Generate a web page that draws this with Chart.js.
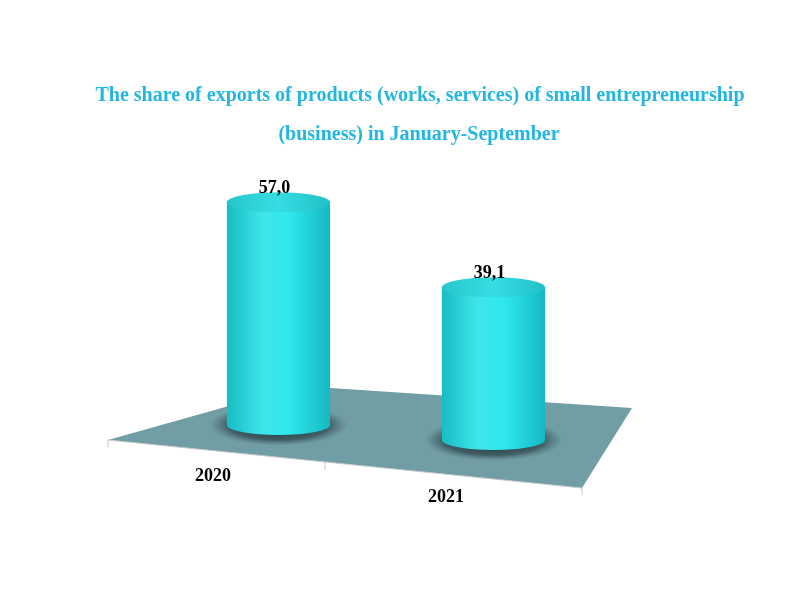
<!DOCTYPE html>
<html><head><meta charset="utf-8">
<script src="https://cdn.jsdelivr.net/npm/chart.js@4"></script>
<style>html,body{margin:0;background:#fff}#c{display:block}</style></head>
<body><canvas id="c" width="800" height="600"></canvas>
<script>
const categories = ["2020", "2021"];
const values = [57.0, 39.1];
const valueLabels = ["57,0", "39,1"];
const titleLines = ["The share of exports of products (works, services) of small entrepreneurship", "(business) in January-September"];

const baseShift = [-5, 10];
const catLabelPos = [[213, 476], [446, 497]];

const cyl = {
  id: 'cyl',
  beforeDatasetsDraw(chart) {
    const ctx = chart.ctx;
    ctx.save();
    ctx.font = 'bold 20px "Liberation Serif", serif';
    ctx.fillStyle = '#22b6e0';
    ctx.textAlign = 'center'; ctx.textBaseline = 'middle';
    ctx.fillText(titleLines[0], 420, 96);
    ctx.fillText(titleLines[1], 419, 135);
    ctx.beginPath();
    ctx.moveTo(108, 440); ctx.lineTo(300, 386); ctx.lineTo(632, 408); ctx.lineTo(582, 488); ctx.closePath();
    ctx.fillStyle = '#719ea5'; ctx.fill();
    ctx.strokeStyle = '#c8c8c8'; ctx.lineWidth = 1;
    ctx.beginPath(); ctx.moveTo(108, 440); ctx.lineTo(108, 447); ctx.moveTo(108, 440); ctx.lineTo(582, 488); ctx.lineTo(582, 495); ctx.moveTo(325, 462); ctx.lineTo(325, 470); ctx.stroke();
    const meta = chart.getDatasetMeta(0);
    meta.data.forEach((el, i) => {
      const w = el.width, cx = el.x, rx = w / 2, ry = 10;
      const top = el.y + baseShift[i], base = el.base + baseShift[i];
      const sg = ctx.createRadialGradient(cx, base, 5, cx, base, rx * 1.35);
      sg.addColorStop(0, 'rgba(20,40,45,0.9)'); sg.addColorStop(0.7, 'rgba(30,50,55,0.6)'); sg.addColorStop(1, 'rgba(60,90,95,0)');
      ctx.save(); ctx.translate(cx, base); ctx.scale(1, 0.3); ctx.translate(-cx, -base);
      ctx.fillStyle = sg; ctx.beginPath(); ctx.arc(cx, base, rx * 1.35, 0, Math.PI * 2); ctx.fill(); ctx.restore();
      const g = ctx.createLinearGradient(cx - rx, 0, cx + rx, 0);
      g.addColorStop(0, '#18bcc4'); g.addColorStop(0.35, '#3ee6ea'); g.addColorStop(0.6, '#2fe8ee'); g.addColorStop(1, '#15b8c2');
      ctx.fillStyle = g;
      ctx.beginPath();
      ctx.moveTo(cx - rx, top);
      ctx.lineTo(cx - rx, base);
      ctx.ellipse(cx, base, rx, ry, 0, Math.PI, 0, true);
      ctx.lineTo(cx + rx, top);
      ctx.closePath(); ctx.fill();
      const tg = ctx.createLinearGradient(cx - rx, 0, cx + rx, 0);
      tg.addColorStop(0, '#27c6cc'); tg.addColorStop(0.5, '#36dde2'); tg.addColorStop(1, '#22c0c8');
      ctx.fillStyle = tg;
      ctx.beginPath(); ctx.ellipse(cx, top, rx, ry, 0, 0, Math.PI * 2); ctx.fill();
      ctx.fillStyle = '#000'; ctx.font = 'bold 18px "Liberation Serif", serif';
      ctx.fillText(valueLabels[i], cx - 4, top - 14);
      ctx.fillText(categories[i], catLabelPos[i][0], catLabelPos[i][1]);
    });
    ctx.restore();
    return false;
  }
};

new Chart(document.getElementById('c'), {
  type: 'bar',
  data: { labels: categories, datasets: [{ data: values, backgroundColor: 'rgba(0,0,0,0)' }] },
  options: {
    responsive: false, animation: false,
    layout: { padding: { left: 171, right: 199, top: 180, bottom: 170 } },
    plugins: { legend: { display: false }, tooltip: { enabled: false }, title: { display: false } },
    scales: {
      x: { display: false },
      y: { display: false, min: 0, max: 64 }
    },
    datasets: { bar: { barPercentage: 0.48, categoryPercentage: 1 } }
  },
  plugins: [cyl]
});
</script></body></html>
